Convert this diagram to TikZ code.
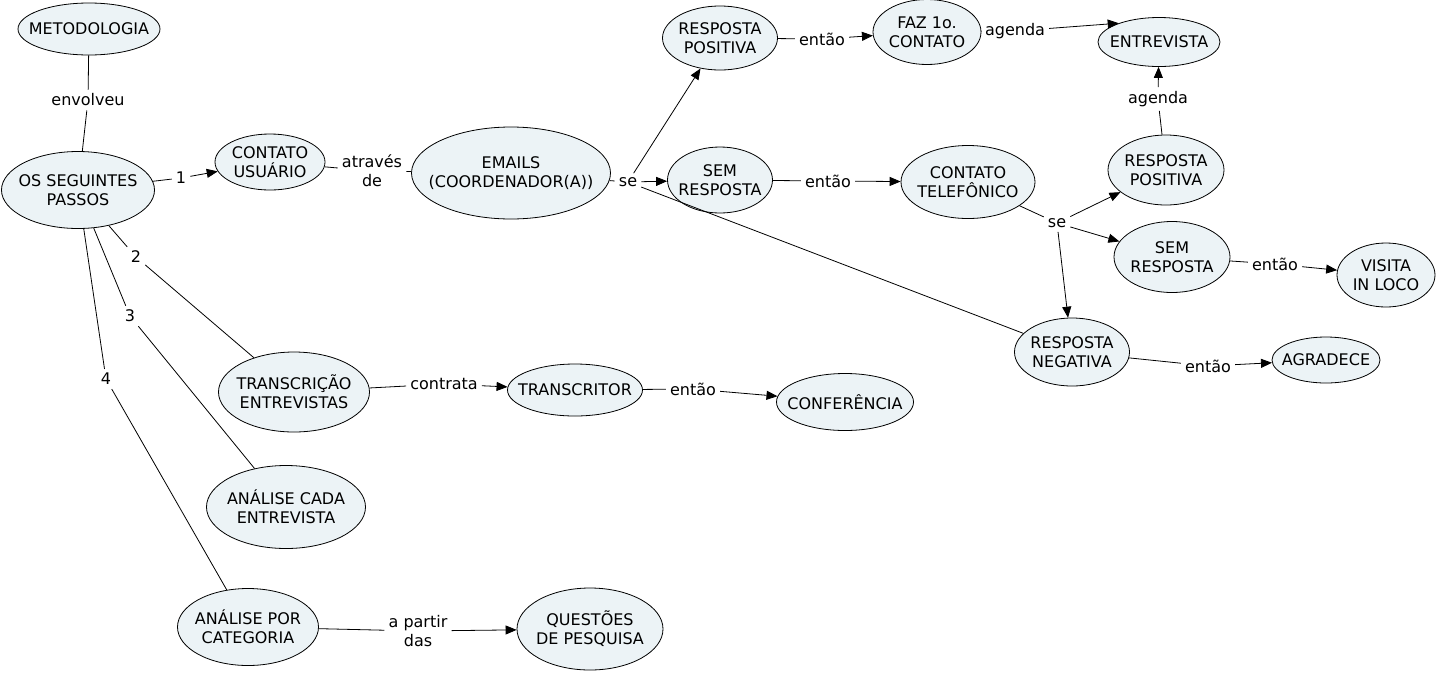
\documentclass[tikz,border=0pt]{standalone}
\usepackage{fontspec}
\setmainfont{DejaVu Sans}
\usetikzlibrary{arrows.meta,shapes.geometric}
\definecolor{cmapfill}{RGB}{236,243,246}

\begin{document}
\begin{tikzpicture}[x=1pt, y=-1pt,
  font=\fontsize{16}{19}\selectfont,
  concept/.style 2 args={ellipse, draw, fill=cmapfill, line width=0.8pt,
    minimum width=#1, minimum height=#2, inner sep=0pt},
  ctext/.style={align=center, inner sep=0pt},
  lab/.style={align=center, inner sep=4pt},
  link/.style={line width=0.8pt},
  arrow/.style={link, -{Triangle[length=11pt, width=9pt]}}
]
\useasboundingbox (0,0) rectangle (1438,673);

% concepts
\node[concept={142pt}{52pt}, label={[ctext]center:METODOLOGIA}] (metodo) at (89,29) {};
\node[concept={153pt}{77pt}, label={[ctext]center:OS SEGUINTES\\PASSOS}] (passos) at (78,190) {};
\node[concept={110pt}{56pt}, label={[ctext]center:CONTATO\\USUÁRIO}] (usuario) at (270,162) {};
\node[concept={199pt}{92pt}, label={[ctext]center:EMAILS\\(COORDENADOR(A))}] (emails) at (511,173) {};
\node[concept={115pt}{64pt}, label={[ctext]center:RESPOSTA\\POSITIVA}] (rpos1) at (720,38) {};
\node[concept={105pt}{66pt}, label={[ctext]center:SEM\\RESPOSTA}] (sem1) at (720,180) {};
\node[concept={108pt}{65pt}, label={[ctext]center:FAZ 1o.\\CONTATO}] (faz) at (927,32) {};
\node[concept={122pt}{49pt}, label={[ctext]center:ENTREVISTA}] (entrev) at (1159,42) {};
\node[concept={134pt}{73pt}, label={[ctext]center:CONTATO\\TELEFÔNICO}] (telef) at (968,182) {};
\node[concept={116pt}{70pt}, label={[ctext]center:RESPOSTA\\POSITIVA}] (rpos2) at (1166,170) {};
\node[concept={116pt}{71pt}, label={[ctext]center:SEM\\RESPOSTA}] (sem2) at (1172,257) {};
\node[concept={98pt}{64pt}, label={[ctext]center:VISITA\\IN LOCO}] (visita) at (1386,275) {};
\node[concept={115pt}{68pt}, label={[ctext]center:RESPOSTA\\NEGATIVA}] (rneg) at (1072,352) {};
\node[concept={108pt}{46pt}, label={[ctext]center:AGRADECE}] (agradece) at (1326,360) {};
\node[concept={151pt}{80pt}, label={[ctext]center:TRANSCRIÇÃO\\ENTREVISTAS}] (transcr) at (294,392) {};
\node[concept={135pt}{52pt}, label={[ctext]center:TRANSCRITOR}] (transcritor) at (575,390) {};
\node[concept={137pt}{57pt}, label={[ctext]center:CONFERÊNCIA}] (conf) at (845,402) {};
\node[concept={159pt}{83pt}, label={[ctext]center:ANÁLISE CADA\\ENTREVISTA}] (analcada) at (286,507) {};
\node[concept={141pt}{77pt}, label={[ctext]center:ANÁLISE POR\\CATEGORIA}] (analcat) at (248,627) {};
\node[concept={146pt}{82pt}, label={[ctext]center:QUESTÕES\\DE PESQUISA}] (questoes) at (590,629) {};

% linking phrases
\node[lab] (envolveu) at (88,100) {envolveu};
\node[lab] (one) at (181,178) {1};
\node[lab] (two) at (136,257) {2};
\node[lab] (three) at (130,316) {3};
\node[lab] (four) at (106,379) {4};
\node[lab] (atraves) at (372,171) {através\\de};
\node[lab] (se1) at (628,182) {se};
\node[lab] (entao1) at (822,39) {então};
\node[lab] (agenda1) at (1015,31) {agenda};
\node[lab] (entao2) at (828,181) {então};
\node[lab] (agenda2) at (1158,99) {agenda};
\node[lab] (se2) at (1057,223) {se};
\node[lab] (entao3) at (1275,264) {então};
\node[lab] (entao4) at (1208,366) {então};
\node[lab] (contrata) at (444,384) {contrata};
\node[lab] (entao5) at (693,389) {então};
\node[lab] (apartir) at (418,631) {a partir\\das};

% connectors
\draw[link] (metodo) -- (envolveu);
\draw[link] (envolveu) -- (passos);
\draw[link] (passos) -- (one);
\draw[arrow] (one) -- (usuario);
\draw[link] (usuario) -- (atraves);
\draw[link] (atraves) -- (emails);
\draw[link] (emails) -- (se1);
\draw[arrow] (se1) -- (rpos1);
\draw[arrow] (se1) -- (sem1);
\draw[link] (se1) -- (rneg);
\draw[link] (rpos1) -- (entao1);
\draw[arrow] (entao1) -- (faz);
\draw[link] (faz) -- (agenda1);
\draw[arrow] (agenda1) -- (entrev.155);
\draw[link] (sem1) -- (entao2);
\draw[arrow] (entao2) -- (telef);
\draw[link] (telef) -- (se2);
\draw[arrow] (se2) -- (rpos2);
\draw[arrow] (se2) -- (sem2);
\draw[arrow] (se2) -- (rneg);
\draw[link] (rpos2) -- (agenda2);
\draw[arrow] (agenda2) -- (entrev);
\draw[link] (sem2) -- (entao3);
\draw[arrow] (entao3) -- (visita);
\draw[link] (rneg) -- (entao4);
\draw[arrow] (entao4) -- (agradece);
\draw[link] (passos) -- (two);
\draw[link] (two) -- (transcr);
\draw[link] (passos) -- (three);
\draw[link] (three) -- (analcada);
\draw[link] (passos) -- (four);
\draw[link] (four) -- (analcat);
\draw[link] (transcr) -- (contrata);
\draw[arrow] (contrata) -- (transcritor);
\draw[link] (transcritor) -- (entao5);
\draw[arrow] (entao5) -- (conf);
\draw[link] (analcat) -- (apartir);
\draw[arrow] (apartir) -- (questoes);
\end{tikzpicture}
\end{document}
